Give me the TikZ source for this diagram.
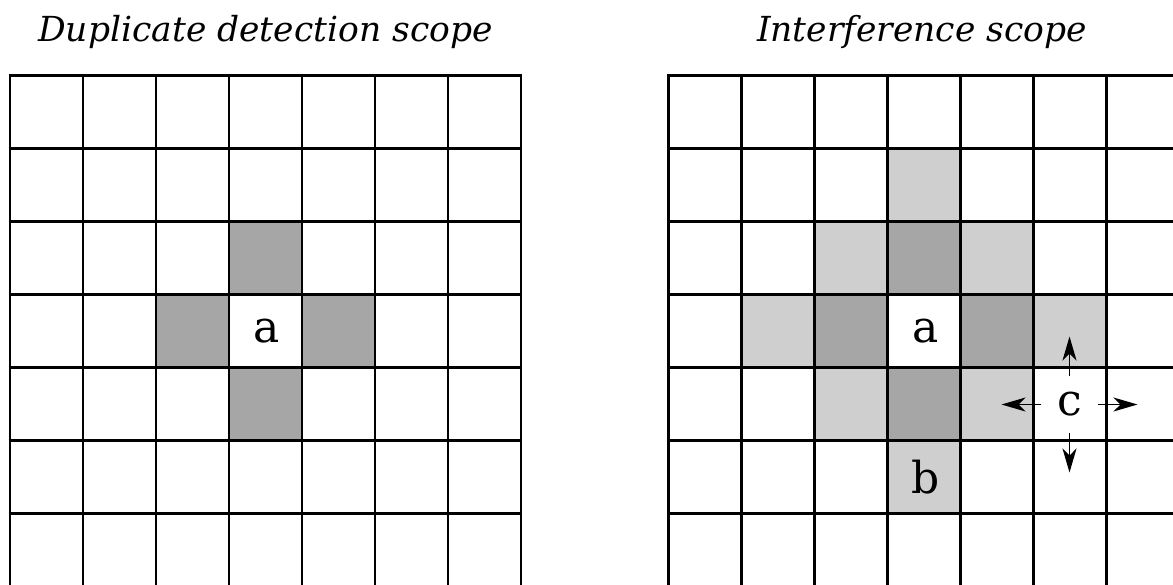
\documentclass[tikz,border=0pt]{standalone}
\usepackage{fontspec}
\setmainfont{DejaVu Serif}
\usetikzlibrary{arrows.meta,calc}
\definecolor{darkcell}{HTML}{A6A6A6}
\definecolor{lightcell}{HTML}{CFCFCF}
\tikzset{
  gridline/.style={line width=2.8pt,black},
  title/.style={font=\fontsize{34.5}{40}\selectfont\itshape,anchor=base},
  lbl/.style={font=\fontsize{44}{50}\selectfont,inner sep=0pt},
  marrow/.style={line width=1.3pt,-{Stealth[length=24pt,width=14pt,inset=7pt]}}
}
\newcommand{\cellfill}[4]{% x0, col, row, colour
  \fill[#4] ({#1+73*#2},{75.5+73*#3}) rectangle ++(73,73);}
\begin{document}
\begin{tikzpicture}[x=1pt,y=-1pt]
\useasboundingbox (0,0) rectangle (1173,584);
\clip (0,0) rectangle (1173,584);
% left grid fills
\foreach \c/\r in {3/2,2/3,4/3,3/4} {\cellfill{10}{\c}{\r}{darkcell}}
% right grid fills
\foreach \c/\r in {3/1,2/2,4/2,1/3,5/3,2/4,4/4,3/5} {\cellfill{668.7}{\c}{\r}{lightcell}}
\foreach \c/\r in {3/2,2/3,4/3,3/4} {\cellfill{668.7}{\c}{\r}{darkcell}}
% grid lines
\foreach \xo in {10,668.7} {
  \foreach \i in {0,...,7} {
    \draw[gridline] ({\xo+73*\i},75.5) -- ({\xo+73*\i},590);
    \draw[gridline] ({\xo-1.4},{75.5+73*\i}) -- ({\xo+511+1.4},{75.5+73*\i});
  }
}
% titles
\node[title] (t1) at (265.5,41.5) {Duplicate detection scope};
\node[title] (t2) at (922,41.5) {Interference scope};
% labels
\node[lbl] (a1) at (266.5,331.5) {a};
\node[lbl] (a2) at (925.2,331.5) {a};
\node[lbl] (b) at (925.2,477.5) {b};
\node[lbl,circle,minimum size=56pt] (c) at (1069.5,404.5) {c};
\coordinate (cu) at (1069.5,336.5);
\coordinate (cd) at (1069.5,472.5);
\coordinate (cl) at (1001.5,404.5);
\coordinate (cr) at (1137.5,404.5);
\draw[marrow] (c.north) -- (cu);
\draw[marrow] (c.south) -- (cd);
\draw[marrow] (c.west) -- (cl);
\draw[marrow] (c.east) -- (cr);
\end{tikzpicture}
\end{document}
